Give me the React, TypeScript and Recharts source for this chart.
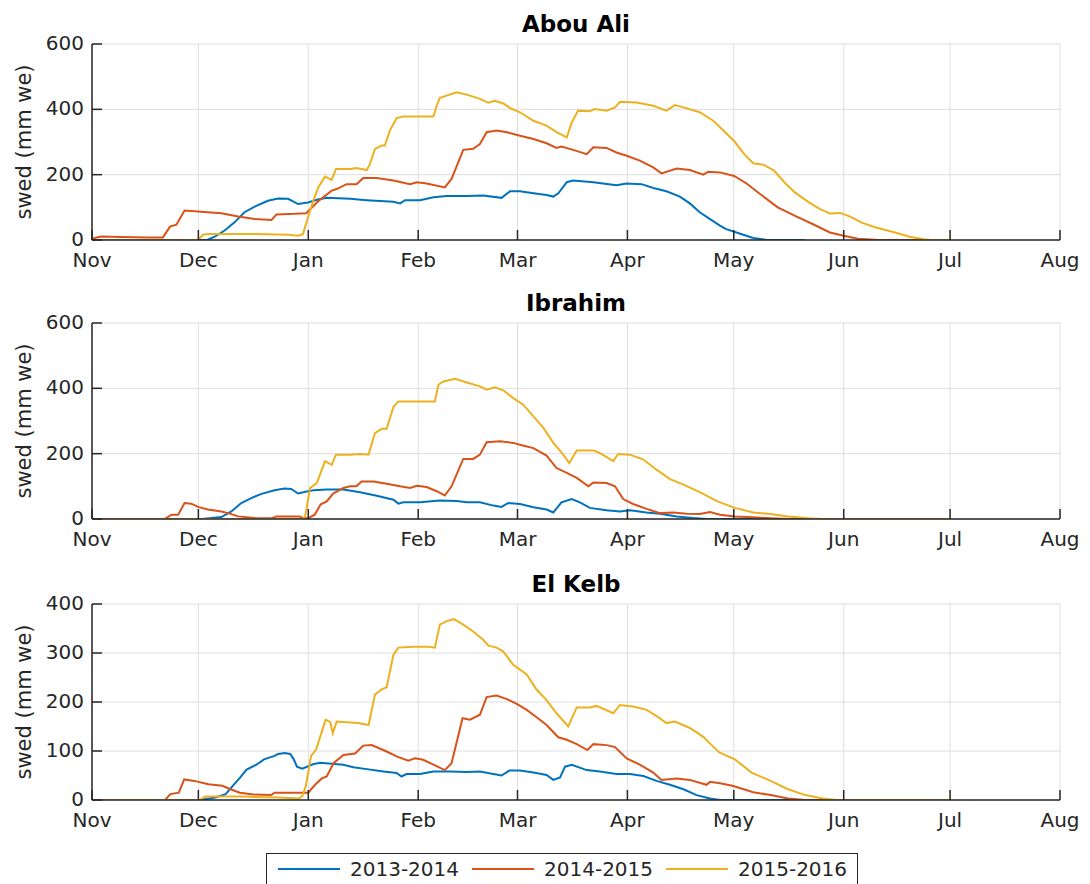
import { CartesianGrid, Line, LineChart, XAxis, YAxis } from "recharts";

// x = days since 1 Nov, y = swed (mm we)
const monthTicks = [0, 30, 61, 92, 120, 151, 181, 212, 242, 273];
const monthLabels = ["Nov", "Dec", "Jan", "Feb", "Mar", "Apr", "May", "Jun", "Jul", "Aug"];
const seasons = ["2013-2014", "2014-2015", "2015-2016"];
const seasonColors = ["#0072BD", "#D95319", "#EDB120"];

const abouAli1314 = [
  [30, 0], [32.5, 0], [34.6, 10], [37.4, 29], [40.2, 54], [43, 85], [45.9, 102], [49.6, 120], [52.5, 127],
  [55.3, 126], [56.7, 118], [58.1, 110], [60.9, 115], [63.7, 124], [66.2, 129], [72.8, 126], [77.5, 122],
  [85, 117], [86.9, 112], [88.3, 122], [92.5, 122], [96.3, 131], [100, 135], [105.7, 135], [110.3, 136],
  [115.5, 129], [117.9, 149], [120.7, 149], [124.5, 143], [128.2, 138], [130.1, 133], [131.5, 143],
  [133.9, 177], [135.7, 182], [141.4, 177], [147.9, 168], [150.8, 173], [155, 171], [158.3, 159], [162, 149],
  [165.8, 133], [168.6, 112], [171.4, 85], [174.3, 64], [177.1, 44], [178.7, 34], [182.6, 20], [186.5, 6],
  [190.4, 0], [201, 0],
];
const abouAli1415 = [
  [0, 3], [1, 7], [2.6, 11], [8.3, 9], [15.8, 8], [20, 8], [22, 41], [23.8, 47], [26.1, 90], [29.9, 87],
  [36.5, 82], [41.2, 72], [45.9, 64], [50.6, 61], [52, 78], [57.2, 80], [60.4, 82], [61.9, 98], [63.7, 118],
  [67.6, 151], [69, 156], [71.8, 171], [74.6, 171], [76.5, 190], [80.3, 190], [85, 182], [89.7, 171],
  [91.6, 177], [94.4, 173], [99.5, 161], [101.4, 187], [104.7, 276], [107.5, 279], [109.4, 294], [111.3, 330],
  [114.1, 335], [117, 330], [120.7, 319], [124.5, 309], [128.2, 296], [131, 282], [132.4, 286], [135.7, 276],
  [139.5, 263], [141.4, 284], [145.1, 282], [147.9, 268], [150.8, 258], [154.5, 243], [158.3, 222],
  [160.6, 204], [164.9, 219], [168.6, 214], [172.4, 200], [173.8, 209], [177.1, 207], [181.1, 196],
  [184.6, 173], [188.5, 140], [193.4, 100], [198.3, 74], [203.2, 49], [208.1, 23], [212, 13], [216, 4],
  [221.8, 0], [236, 0],
];
const abouAli1516 = [
  [0, 0], [29.9, 0], [31.3, 16], [32.7, 18], [45.9, 18], [55.3, 16], [58.1, 13], [59.5, 18], [60.9, 69],
  [62.4, 120], [63.8, 161], [65.7, 194], [67.6, 184], [68.8, 217], [72.8, 217], [74.6, 220], [77.5, 214],
  [78.4, 233], [79.8, 279], [81.7, 289], [82.6, 289], [84, 335], [85.9, 373], [87.8, 378], [96.3, 378],
  [97.2, 411], [98.1, 435], [100, 442], [102.8, 452], [105.7, 445], [109.4, 432], [111.8, 420], [113.6, 426],
  [116, 418], [117.9, 404], [120.7, 391], [124.5, 365], [128.2, 350], [131, 330], [133.9, 314], [135.3, 360],
  [137.1, 396], [140.4, 394], [141.8, 401], [145.1, 396], [147.5, 406], [148.9, 423], [153.6, 421],
  [158.3, 411], [162, 396], [164.4, 413], [166.8, 406], [171.4, 391], [175.2, 365], [177.7, 339],
  [181.1, 303], [184, 262], [186.5, 235], [189.5, 230], [192.4, 212], [195.3, 176], [198.3, 145],
  [202.2, 115], [205.2, 95], [208.1, 81], [211, 83], [214, 71], [216.9, 54], [220.8, 39], [225.7, 25],
  [230.6, 10], [234.6, 2], [236.5, 0], [242, 0],
];

const ibrahim1314 = [
  [31, 0], [36.5, 6], [39.3, 23], [42.1, 49], [44.9, 64], [47.8, 77], [51.5, 88], [54.3, 93], [56.2, 92],
  [58.1, 78], [60.9, 85], [62.4, 88], [66.2, 90], [70.9, 90], [75.6, 82], [80.3, 71], [85, 59], [86.4, 47],
  [87.8, 51], [92.5, 51], [98.1, 57], [102.8, 55], [105.7, 51], [109.4, 51], [113.2, 41], [115.5, 37],
  [117.4, 49], [120.7, 46], [124.5, 36], [128.2, 29], [130.1, 20], [132.4, 51], [135.3, 61], [137.6, 51],
  [140.4, 34], [145.1, 27], [148.9, 23], [151.7, 27], [156.4, 20], [160.2, 16], [164.9, 8], [169.5, 3],
  [173.3, 0], [201, 0],
];
const ibrahim1415 = [
  [0, 0], [20.5, 0], [22.4, 13], [24.3, 13], [26.1, 49], [28, 47], [29.9, 37], [32.7, 29], [36.5, 23],
  [38.4, 18], [41.2, 8], [45.9, 3], [50.6, 2], [52, 8], [58.6, 8], [59.5, 3], [60.9, 2], [62.8, 13],
  [64.5, 45], [66.2, 54], [68, 78], [70.9, 95], [72.8, 100], [74.6, 100], [76, 115], [79.3, 115], [83.1, 108],
  [86.9, 100], [89.7, 95], [91.6, 102], [94.4, 98], [97.2, 85], [99.5, 72], [101.4, 100], [104.7, 184],
  [107.5, 184], [109.4, 197], [111.3, 235], [115.1, 238], [118.8, 233], [121.2, 226], [124.5, 217],
  [128.2, 194], [131, 156], [133.9, 141], [136.7, 126], [140, 100], [141.4, 112], [145.1, 110], [147.5, 100],
  [149.8, 61], [152.6, 46], [156.4, 31], [160.2, 18], [163.9, 20], [167.7, 16], [171.4, 15], [174.3, 21],
  [177.1, 13], [181.3, 8], [186.5, 5], [191.4, 2], [196.3, 0], [236, 0],
];
const ibrahim1516 = [
  [0, 0], [59.5, 0], [60.1, 8], [61.5, 95], [63.4, 110], [65.7, 177], [67.6, 166], [68.8, 197], [72.8, 197],
  [75.6, 199], [78, 197], [79.8, 263], [81.7, 276], [83.1, 276], [85, 343], [86.4, 360], [96.7, 360],
  [97.7, 411], [99.1, 421], [102.4, 429], [105.7, 418], [109.4, 406], [111.3, 396], [113.6, 403], [116, 394],
  [118.8, 370], [121.6, 350], [124.5, 314], [127.3, 279], [130.1, 233], [132.9, 197], [134.6, 171],
  [136.7, 210], [141.4, 210], [143.2, 202], [147, 177], [148.4, 199], [151.7, 197], [155.5, 182], [159.2, 151],
  [163, 122], [166.8, 105], [171.4, 82], [176.4, 54], [181.3, 34], [186.5, 20], [191.4, 15], [196.3, 8],
  [202.2, 2], [206.1, 0], [242, 0],
];

const elKelb1314 = [
  [30.4, 0], [34.8, 5], [37.7, 12], [39.7, 29], [41.7, 45], [43.6, 62], [46.6, 73], [48.5, 83], [51.5, 90],
  [52.5, 94], [54.4, 96], [55.9, 94], [56.9, 83], [57.8, 68], [59.3, 64], [62.3, 73], [64.3, 76], [70.9, 72],
  [73.7, 67], [77.5, 63], [82.2, 58], [85.9, 55], [87.3, 48], [88.7, 53], [92.5, 53], [96.3, 58], [101, 58],
  [105.7, 57], [109.4, 58], [113.2, 53], [115.5, 50], [117.7, 60], [120.7, 60], [124.5, 56], [128.2, 51],
  [130.1, 41], [132, 46], [133.4, 68], [135.3, 72], [139.5, 61], [143.2, 58], [147.9, 53], [151.7, 53],
  [155.5, 49], [159.2, 39], [163, 31], [166.8, 22], [170.5, 10], [174.3, 3], [177.1, 0], [201, 0],
];
const elKelb1415 = [
  [0, 0], [20.6, 0], [22.1, 12], [24.5, 15], [26, 42], [28.9, 39], [32.8, 32], [36.8, 29], [38.7, 23],
  [41.7, 15], [45.6, 11], [50.5, 10], [51.5, 15], [61, 15], [62.9, 31], [64.8, 44], [66.2, 48], [68.1, 75],
  [70.9, 92], [74.2, 95], [76.5, 111], [78.9, 112], [83.1, 99], [85.9, 89], [89.2, 80], [91.1, 85], [93.4, 82],
  [96.3, 72], [99.5, 61], [101.4, 75], [104.5, 167], [106.6, 164], [109.4, 174], [111.3, 210], [114.1, 213],
  [117, 206], [119.8, 196], [122.6, 184], [125.4, 169], [128.2, 153], [131.5, 128], [133.9, 123],
  [136.7, 114], [139.7, 102], [141.4, 114], [145.1, 112], [147.5, 108], [150.8, 85], [154.5, 72], [158.3, 56],
  [160.6, 41], [164.9, 44], [168.6, 41], [173.3, 31], [174.3, 37], [177.1, 34], [180.6, 29], [186.5, 16],
  [191.4, 10], [196.3, 3], [201.2, 0], [236, 0],
];
const elKelb1516 = [
  [0, 0], [30.4, 0], [31.9, 7], [42.6, 7], [52.5, 5], [58.3, 3], [59.3, 8], [60.3, 29], [61.8, 90],
  [63.2, 103], [64.7, 137], [65.9, 164], [67.2, 159], [67.9, 136], [69, 160], [72.8, 158], [75.1, 157],
  [78, 153], [79.8, 215], [81.7, 226], [83.1, 230], [85, 296], [86.4, 311], [90.6, 313], [94.4, 313],
  [96.7, 311], [98.1, 358], [100, 365], [102.1, 369], [104.7, 358], [107.5, 344], [110.3, 327], [111.8, 315],
  [114.1, 311], [116, 303], [118.8, 276], [122.6, 256], [125.4, 225], [128.2, 204], [131, 177], [134.3, 150],
  [136.7, 189], [140.4, 189], [142.3, 192], [147, 177], [148.9, 194], [152.6, 191], [156.4, 184],
  [159.7, 169], [162, 157], [164.4, 160], [168.6, 147], [172.4, 129], [175.2, 109], [176.9, 97], [181.3, 83],
  [186, 56], [191.4, 39], [196.3, 22], [201.2, 10], [206.1, 3], [210, 0], [242, 0],
];

const panels = [
  { title: "Abou Ali", top: 0, yMax: 600, yTicks: [0, 200, 400, 600], series: [abouAli1314, abouAli1415, abouAli1516] },
  { title: "Ibrahim", top: 279, yMax: 600, yTicks: [0, 200, 400, 600], series: [ibrahim1314, ibrahim1415, ibrahim1516] },
  { title: "El Kelb", top: 560, yMax: 400, yTicks: [0, 100, 200, 300, 400], series: [elKelb1314, elKelb1415, elKelb1516] },
];

const FONT = "'DejaVu Sans', sans-serif";
const INK = "#262626";
const PLOT_TOP = 44;
const PLOT_H = 196;

const toRows = (pairs: number[][]) => pairs.map(([d, v]) => ({ d, v }));

function MonthTick({ x, y, payload }: any) {
  const label = monthLabels[monthTicks.indexOf(payload.value)];
  return (
    <g>
      <line x1={x} x2={x} y1={y} y2={y - 10} stroke={INK} strokeWidth={1.5} />
      <text x={x} y={y + 27} textAnchor="middle" fontSize={20} fill={INK} fontFamily={FONT}>
        {label}
      </text>
    </g>
  );
}

function ValueTick({ x, y, payload }: any) {
  return (
    <g>
      <line x1={x} x2={x + 10} y1={y} y2={y} stroke={INK} strokeWidth={1.5} />
      <text x={x - 8} y={y + 6} textAnchor="end" fontSize={20} fill={INK} fontFamily={FONT}>
        {payload.value}
      </text>
    </g>
  );
}

function Panel({ top, yMax, yTicks, series }: { top: number; yMax: number; yTicks: number[]; series: number[][][] }) {
  return (
    <div style={{ position: "absolute", left: 0, top }}>
      <LineChart width={1090} height={PLOT_TOP + PLOT_H + 50} margin={{ top: PLOT_TOP, right: 30, bottom: 0, left: 0 }}>
        <CartesianGrid stroke="#dedede" strokeWidth={1} />
        <XAxis
          type="number"
          dataKey="d"
          domain={[0, 273]}
          ticks={monthTicks}
          interval={0}
          allowDataOverflow
          height={50}
          tickSize={0}
          tickMargin={0}
          tickLine={false}
          axisLine={{ stroke: INK, strokeWidth: 1.5 }}
          tick={(p: any) => <MonthTick {...p} />}
        />
        <YAxis
          type="number"
          domain={[0, yMax]}
          ticks={yTicks}
          interval={0}
          allowDataOverflow
          width={92}
          tickSize={0}
          tickMargin={0}
          tickLine={false}
          axisLine={{ stroke: INK, strokeWidth: 1.5 }}
          tick={(p: any) => <ValueTick {...p} />}
        />
        {series.map((s, i) => (
          <Line
            key={seasons[i]}
            data={toRows(s)}
            dataKey="v"
            type="linear"
            dot={false}
            activeDot={false}
            stroke={seasonColors[i]}
            strokeWidth={2}
            isAnimationActive={false}
          />
        ))}
      </LineChart>
    </div>
  );
}

export default function App() {
  return (
    <div
      style={{
        position: "absolute",
        left: 0,
        top: 0,
        width: 1090,
        height: 884,
        overflow: "hidden",
        background: "#fff",
        fontFamily: FONT,
      }}
    >
      {panels.map((p) => (
        <Panel key={p.title} top={p.top} yMax={p.yMax} yTicks={p.yTicks} series={p.series} />
      ))}
      <svg width={1090} height={884} style={{ position: "absolute", left: 0, top: 0, pointerEvents: "none" }}>
        {panels.map((p) => (
          <g key={p.title}>
            <text x={576} y={p.top + PLOT_TOP - 12} textAnchor="middle" fontSize={23} fontWeight="bold" fill="#000" fontFamily={FONT}>
              {p.title}
            </text>
            <text
              transform={`translate(31, ${p.top + PLOT_TOP + PLOT_H / 2}) rotate(-90)`}
              textAnchor="middle"
              fontSize={21}
              fill={INK}
              fontFamily={FONT}
            >
              swed (mm we)
            </text>
          </g>
        ))}
      </svg>
      <div
        style={{
          position: "absolute",
          left: 266,
          top: 853,
          width: 592,
          height: 36,
          boxSizing: "border-box",
          border: `1.5px solid ${INK}`,
          background: "#fff",
          display: "flex",
          alignItems: "flex-start",
          paddingLeft: 11,
          paddingTop: 3,
          whiteSpace: "nowrap",
        }}
      >
        {seasons.map((s, i) => (
          <div key={s} style={{ display: "flex", alignItems: "center", marginRight: 13, height: 24, flexShrink: 0 }}>
            <svg width={62} height={4} style={{ marginRight: 10, flexShrink: 0 }}>
              <line x1={0} x2={62} y1={2} y2={2} stroke={seasonColors[i]} strokeWidth={2} />
            </svg>
            <span style={{ fontSize: 20, color: INK, lineHeight: "24px", whiteSpace: "nowrap" }}>{s}</span>
          </div>
        ))}
      </div>
    </div>
  );
}
